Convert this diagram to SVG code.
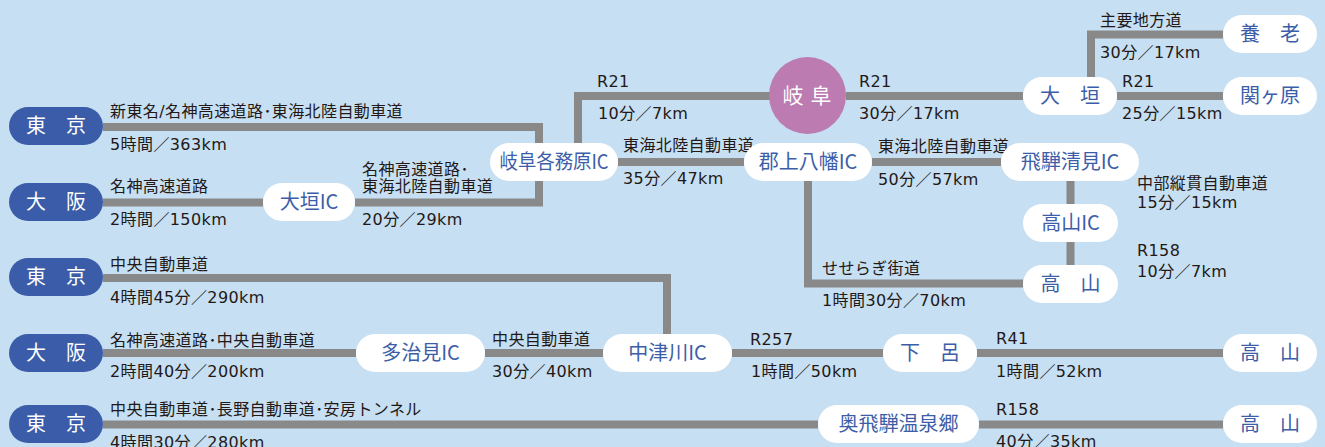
<svg xmlns="http://www.w3.org/2000/svg" width="1325" height="447" viewBox="0 0 1325 447">
<style>
.road{fill:none;stroke:#898989;stroke-width:8;stroke-linejoin:miter;stroke-linecap:butt}
.lbl{font-family:"DejaVu Sans","Noto Sans CJK JP",sans-serif;font-size:16px;fill:#231815;letter-spacing:0.4px}
.pw{fill:#ffffff}
.pb{fill:#3a5ca9}
.tw{font-family:"Noto Sans CJK JP",sans-serif;font-size:20px;fill:#3c5ea9;text-anchor:middle}
.tb{font-family:"Noto Sans CJK JP",sans-serif;font-size:20px;fill:#ffffff;text-anchor:middle}
</style>
<rect x="0" y="0" width="1325" height="447" fill="#c6dff3"/>
<g id="connectors">
<path class="road" d="M103 127 H539 V162"/>
<path class="road" d="M355 202.5 H539 V162"/>
<path class="road" d="M103 202.5 H263"/>
<path class="road" d="M578 162 V96 H770"/>
<path class="road" d="M618 162 H744"/>
<path class="road" d="M846 96 H1023"/>
<path class="road" d="M1091 96 V34.5 H1223"/>
<path class="road" d="M1117 96 H1223"/>
<path class="road" d="M872 162 H1001"/>
<path class="road" d="M1070.5 181 V204"/>
<path class="road" d="M1070.5 242 V265"/>
<path class="road" d="M808 181 V283.5 H1023"/>
<path class="road" d="M103 278 H667 V334"/>
<path class="road" d="M103 353 H356"/>
<path class="road" d="M485 353 H603"/>
<path class="road" d="M732 353 H883"/>
<path class="road" d="M977 353 H1223"/>
<path class="road" d="M103 424.5 H818"/>
<path class="road" d="M979 424.5 H1223"/>
</g>
<g id="labels">
<text class="lbl" x="110" y="117">新東名/名神高速道路･東海北陸自動車道</text>
<text class="lbl" x="110" y="150">5時間／363km</text>
<text class="lbl" x="110" y="192">名神高速道路</text>
<text class="lbl" x="110" y="225">2時間／150km</text>
<text class="lbl" x="362" y="175">名神高速道路･</text>
<text class="lbl" x="362" y="192">東海北陸自動車道</text>
<text class="lbl" x="362" y="225">20分／29km</text>
<text class="lbl" x="597" y="87">R21</text>
<text class="lbl" x="598" y="119">10分／7km</text>
<text class="lbl" x="623" y="151">東海北陸自動車道</text>
<text class="lbl" x="623" y="184">35分／47km</text>
<text class="lbl" x="859" y="87">R21</text>
<text class="lbl" x="859" y="119">30分／17km</text>
<text class="lbl" x="1100" y="26">主要地方道</text>
<text class="lbl" x="1100" y="58">30分／17km</text>
<text class="lbl" x="1122" y="87">R21</text>
<text class="lbl" x="1122" y="119">25分／15km</text>
<text class="lbl" x="878" y="152">東海北陸自動車道</text>
<text class="lbl" x="878" y="185">50分／57km</text>
<text class="lbl" x="1137" y="189">中部縦貫自動車道</text>
<text class="lbl" x="1137" y="208">15分／15km</text>
<text class="lbl" x="1137" y="256">R158</text>
<text class="lbl" x="1137" y="277">10分／7km</text>
<text class="lbl" x="822" y="274">せせらぎ街道</text>
<text class="lbl" x="822" y="306">1時間30分／70km</text>
<text class="lbl" x="110" y="270">中央自動車道</text>
<text class="lbl" x="110" y="303">4時間45分／290km</text>
<text class="lbl" x="110" y="346">名神高速道路･中央自動車道</text>
<text class="lbl" x="110" y="377">2時間40分／200km</text>
<text class="lbl" x="492" y="345">中央自動車道</text>
<text class="lbl" x="492" y="377">30分／40km</text>
<text class="lbl" x="750" y="345">R257</text>
<text class="lbl" x="751" y="377">1時間／50km</text>
<text class="lbl" x="996" y="344">R41</text>
<text class="lbl" x="996" y="377">1時間／52km</text>
<text class="lbl" x="110" y="415">中央自動車道･長野自動車道･安房トンネル</text>
<text class="lbl" x="110" y="448">4時間30分／280km</text>
<text class="lbl" x="996" y="415">R158</text>
<text class="lbl" x="996" y="447">40分／35km</text>
</g>
<g id="tokyo1"><rect class="pb" x="9" y="107" width="94" height="38" rx="19"/><text class="tb" x="56" y="133">東　京</text></g>
<g id="osaka1"><rect class="pb" x="9" y="183" width="94" height="38" rx="19"/><text class="tb" x="56" y="209">大　阪</text></g>
<g id="ogaki-ic"><rect class="pw" x="263" y="183" width="92" height="38" rx="19"/><text class="tw" x="309" y="209">大垣IC</text></g>
<g id="gifu-kakamigahara-ic"><rect class="pw" x="490" y="143" width="128" height="38" rx="19"/><text class="tw" x="554" y="169" textLength="109" lengthAdjust="spacingAndGlyphs">岐阜各務原IC</text></g>
<g id="gifu"><circle cx="807.5" cy="95.5" r="38.5" fill="#bc7bb1"/><text class="tb" y="103" style="font-size:21px"><tspan x="793">岐</tspan><tspan x="821">阜</tspan></text></g>
<g id="gujo-hachiman-ic"><rect class="pw" x="744" y="143" width="128" height="38" rx="19"/><text class="tw" x="808" y="169">郡上八幡IC</text></g>
<g id="ogaki"><rect class="pw" x="1023" y="77" width="94" height="38" rx="19"/><text class="tw" x="1070" y="103">大　垣</text></g>
<g id="yoro"><rect class="pw" x="1223" y="15" width="94" height="38" rx="19"/><text class="tw" x="1270" y="41">養　老</text></g>
<g id="sekigahara"><rect class="pw" x="1223" y="77" width="94" height="38" rx="19"/><text class="tw" x="1270" y="103">関ヶ原</text></g>
<g id="hida-kiyomi-ic"><rect class="pw" x="1001" y="143" width="138" height="38" rx="19"/><text class="tw" x="1070" y="169">飛騨清見IC</text></g>
<g id="takayama-ic"><rect class="pw" x="1023" y="204" width="95" height="38" rx="19"/><text class="tw" x="1070.5" y="230">高山IC</text></g>
<g id="takayama1"><rect class="pw" x="1023" y="265" width="95" height="38" rx="19"/><text class="tw" x="1070.5" y="291">高　山</text></g>
<g id="tokyo2"><rect class="pb" x="9" y="258" width="94" height="38" rx="19"/><text class="tb" x="56" y="284">東　京</text></g>
<g id="osaka2"><rect class="pb" x="9" y="334" width="94" height="38" rx="19"/><text class="tb" x="56" y="360">大　阪</text></g>
<g id="tajimi-ic"><rect class="pw" x="356" y="334" width="129" height="38" rx="19"/><text class="tw" x="420.5" y="360">多治見IC</text></g>
<g id="nakatsugawa-ic"><rect class="pw" x="603" y="334" width="129" height="38" rx="19"/><text class="tw" x="667.5" y="360">中津川IC</text></g>
<g id="gero"><rect class="pw" x="883" y="334" width="94" height="38" rx="19"/><text class="tw" x="930" y="360">下　呂</text></g>
<g id="takayama2"><rect class="pw" x="1223" y="334" width="94" height="38" rx="19"/><text class="tw" x="1270" y="360">高　山</text></g>
<g id="tokyo3"><rect class="pb" x="9" y="405" width="94" height="38" rx="19"/><text class="tb" x="56" y="431">東　京</text></g>
<g id="okuhida-onsenkyo"><rect class="pw" x="818" y="405" width="161" height="38" rx="19"/><text class="tw" x="898.5" y="431">奥飛騨温泉郷</text></g>
<g id="takayama3"><rect class="pw" x="1223" y="405" width="94" height="38" rx="19"/><text class="tw" x="1270" y="431">高　山</text></g>
</svg>
